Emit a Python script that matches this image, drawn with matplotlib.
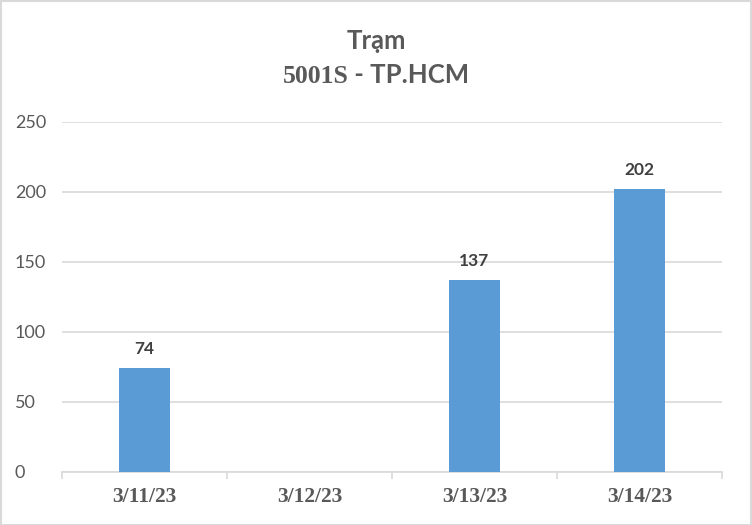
import matplotlib
matplotlib.use("Agg")
import matplotlib.pyplot as plt
from matplotlib.patches import Rectangle
import numpy as np

categories = ["3/11/23", "3/12/23", "3/13/23", "3/14/23"]
values = [74, None, 137, 202]
yticks = [0, 50, 100, 150, 200, 250]

W, H = 752, 525
fig = plt.figure(figsize=(W / 100, H / 100), dpi=100)
ax = fig.add_axes([62 / W, (525 - 472) / H, (722 - 62) / W, (472 - 122) / H])

x = np.arange(len(categories))
bar_vals = [v if v is not None else 0 for v in values]
bars = ax.bar(x, bar_vals, width=0.315, color="#5B9BD5", zorder=3)
for xi, v in zip(x, values):
    if v is None:
        continue
    ax.annotate(str(v), (xi, v), xytext=(0, 8), textcoords="offset points",
                ha="center", va="bottom", fontsize=12.5, fontweight="bold",
                color="#404040", family="Lato")

ax.set_xlim(-0.5, len(categories) - 0.5)
ax.set_ylim(0, 250)
ax.set_yticks(yticks)
ax.set_yticklabels([str(t) for t in yticks], family="Lato", fontsize=13, color="#595959")
ax.yaxis.grid(True, color="#D9D9D9", linewidth=1.2, zorder=0)
ax.tick_params(axis="y", length=0, pad=34)
for lbl in ax.get_yticklabels():
    lbl.set_horizontalalignment("left")

ax.set_xticks(x)
ax.set_xticklabels(categories, family="Liberation Serif", fontweight="bold",
                   fontsize=15.5, color="#595959")
ax.set_xticks(np.arange(len(categories) + 1) - 0.5, minor=True)
ax.tick_params(axis="x", which="major", length=0, pad=11)
ax.tick_params(axis="x", which="minor", length=5, color="#D9D9D9", width=1.2)
for s in ["top", "right", "left"]:
    ax.spines[s].set_visible(False)
ax.spines["bottom"].set_color("#D9D9D9")
ax.spines["bottom"].set_linewidth(1.2)

# title
tc = "#595959"
fig.text(0.5, 1 - 49 / H, "Trạm", ha="center", va="baseline", fontsize=18.5,
         fontweight="bold", color=tc, family="Lato")
t1 = fig.text(0, 1 - 83 / H, "5001S", ha="left", va="baseline", fontsize=18.5,
              fontweight="bold", color=tc, family="Liberation Serif")
t2 = fig.text(0, 1 - 83 / H, " - TP.HCM", ha="left", va="baseline", fontsize=18.5,
              fontweight="bold", color=tc, family="Lato")
r = fig.canvas.get_renderer()
w1 = t1.get_window_extent(r).width
w2 = t2.get_window_extent(r).width
start = (W / 2 - (w1 + w2) / 2)
t1.set_x(start / W)
t2.set_x((start + w1) / W)

fig.patches.append(Rectangle((0.5 / W, 0.5 / H), 1 - 1.5 / W, 1 - 1.5 / H,
                             transform=fig.transFigure, fill=False,
                             edgecolor="#D9D9D9", linewidth=1.5))

fig.savefig("out.png", dpi=100)
